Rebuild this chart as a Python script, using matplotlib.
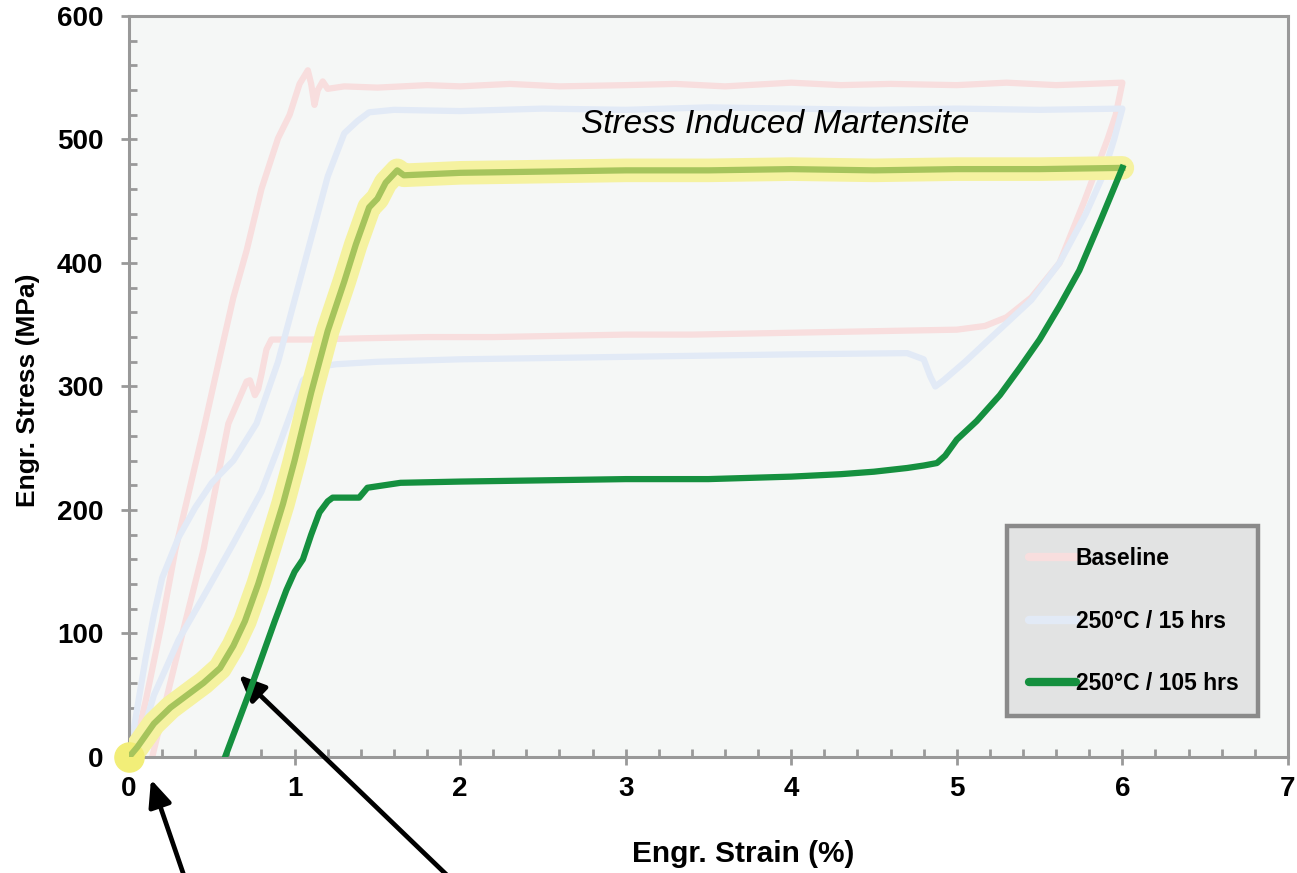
import matplotlib.pyplot as plt
from matplotlib.ticker import MultipleLocator

# Baseline: loading -> upper plateau -> unloading -> lower plateau -> back to zero
base_x = [0.02, 0.10, 0.20, 0.28, 0.35, 0.45, 0.55, 0.63, 0.71, 0.80, 0.90, 0.97, 1.03, 1.08,
          1.10, 1.12, 1.14, 1.17, 1.20, 1.30, 1.50, 1.80, 2.00, 2.30, 2.60, 3.00, 3.30, 3.60,
          4.00, 4.30, 4.60, 5.00, 5.30, 5.60, 5.80, 6.00,
          5.96, 5.91, 5.84, 5.77, 5.62, 5.45, 5.30, 5.17, 5.00, 4.60, 4.20, 3.80, 3.40, 3.00,
          2.60, 2.20, 1.80, 1.40, 1.10, 0.95, 0.86, 0.83, 0.80, 0.78, 0.76, 0.73, 0.71, 0.60,
          0.45, 0.30, 0.14]
base_y = [0, 45, 110, 168, 208, 265, 325, 372, 410, 460, 501, 520, 545, 556,
          545, 528, 540, 547, 541, 543, 542, 544, 543, 545, 543, 544, 545, 543,
          546, 544, 545, 544, 546, 544, 545, 546,
          520, 500, 475, 450, 400, 372, 356, 349, 346, 345, 344, 343, 342, 342,
          341, 340, 340, 339, 338, 338, 338, 330, 310, 298, 293, 305, 304, 270,
          168, 88, 0]

# 250 C / 15 hrs
h15_x = [0.00, 0.05, 0.10, 0.15, 0.20, 0.30, 0.40, 0.50, 0.63, 0.77, 0.90, 1.00, 1.10, 1.20,
         1.30, 1.38, 1.45, 1.60, 2.00, 2.50, 3.00, 3.50, 4.00, 4.50, 5.00, 5.50, 6.00,
         5.95, 5.88, 5.78, 5.62, 5.45, 5.25, 5.05, 4.92, 4.87, 4.84, 4.80, 4.70, 4.00, 3.00,
         2.00, 1.50, 1.25, 1.15, 1.05, 0.90, 0.80, 0.63, 0.45, 0.30, 0.15, 0.04]
h15_y = [0, 40, 80, 115, 145, 178, 202, 222, 240, 270, 320, 370, 420, 470,
         505, 515, 522, 524, 523, 525, 524, 526, 525, 524, 525, 524, 525,
         500, 470, 440, 400, 370, 345, 320, 305, 300, 308, 322, 327, 326, 324,
         322, 320, 318, 316, 305, 250, 215, 173, 130, 95, 50, 0]

# 250 C / 105 hrs, highlighted loading branch and plain unloading branch
h105_load_x = [0.00, 0.05, 0.15, 0.25, 0.35, 0.45, 0.55, 0.63, 0.70, 0.78, 0.85, 0.93, 1.00,
               1.10, 1.20, 1.30, 1.37, 1.45, 1.50, 1.55, 1.62, 1.66, 2.00, 2.50, 3.00, 3.50,
               4.00, 4.50, 5.00, 5.50, 6.00]
h105_load_y = [0, 8, 27, 40, 50, 60, 72, 90, 110, 140, 170, 205, 240,
               295, 345, 385, 415, 445, 452, 465, 475, 471, 473, 474, 475, 475,
               476, 475, 476, 476, 477]
h105_unload_x = [6.00, 5.87, 5.74, 5.62, 5.50, 5.38, 5.26, 5.12, 5.00, 4.93, 4.88, 4.80, 4.70,
                 4.50, 4.30, 4.00, 3.50, 3.00, 2.50, 2.00, 1.64, 1.44, 1.39, 1.30, 1.23, 1.20,
                 1.15, 1.10, 1.05, 1.00, 0.95, 0.88, 0.80, 0.72, 0.65, 0.58]
h105_unload_y = [477, 435, 394, 365, 338, 315, 293, 272, 257, 244, 238, 236, 234,
                 231, 229, 227, 225, 225, 224, 223, 222, 218, 210, 210, 210, 207,
                 198, 180, 160, 150, 135, 110, 80, 50, 25, 0]

labels = ['Baseline', '250°C / 15 hrs', '250°C / 105 hrs']
colors = ['#f8dede', '#e2eaf6', '#15903f']

plt.rcParams['font.family'] = ['Liberation Sans', 'DejaVu Sans']

fig = plt.figure(figsize=(12.97, 8.73), dpi=100)
ax = fig.add_axes([0.0995, 0.1329, 0.8935, 0.8488])
ax.set_facecolor('#f5f7f6')

ax.plot(base_x, base_y, color=colors[0], lw=4.5, solid_joinstyle='round', zorder=2, label=labels[0])
ax.plot(h15_x, h15_y, color=colors[1], lw=4.5, solid_joinstyle='round', zorder=2, label=labels[1])

# yellow highlight of the loading branch
ax.plot(h105_load_x, h105_load_y, color='#f5f2a0', lw=17, solid_capstyle='round',
        solid_joinstyle='round', zorder=3)
ax.plot([h105_load_x[0]], [h105_load_y[0]], 'o', color='#f2ee78', ms=21, zorder=3,
        clip_on=False)
ax.plot(h105_load_x, h105_load_y, color='#a6c45c', lw=4.5, solid_joinstyle='round', zorder=4)
ax.plot(h105_unload_x, h105_unload_y, color=colors[2], lw=4.5, solid_joinstyle='round',
        zorder=4, label=labels[2])

ax.text(3.9, 512, 'Stress Induced Martensite', fontsize=24, style='italic',
        ha='center', va='center')

# arrows coming from below the axes
arrow = dict(arrowstyle='-|>,head_length=1.6,head_width=0.7', lw=3.4, color='black')
ax.annotate('', xy=(0.127, -16), xytext=(0.38, -115), arrowprops=arrow,
            annotation_clip=False)
ax.annotate('', xy=(0.652, 68), xytext=(2.07, -115), arrowprops=arrow,
            annotation_clip=False)

ax.set_xlim(0, 7)
ax.set_ylim(0, 600)
ax.xaxis.set_major_locator(MultipleLocator(1))
ax.xaxis.set_minor_locator(MultipleLocator(0.2))
ax.yaxis.set_major_locator(MultipleLocator(100))
ax.yaxis.set_minor_locator(MultipleLocator(20))
ax.tick_params(which='major', direction='inout', length=11, width=2, color='#999999',
               labelsize=20)
ax.tick_params(axis='x', which='major', pad=8)
ax.tick_params(axis='y', which='major', pad=13)
ax.tick_params(which='minor', direction='in', length=6, width=2, color='#999999')
for lab in ax.get_xticklabels() + ax.get_yticklabels():
    lab.set_fontweight('bold')
for sp in ax.spines.values():
    sp.set_color('#999999')
    sp.set_linewidth(2.2)

ax.set_xlabel('Engr. Strain (%)', fontsize=21.5, fontweight='bold')
ax.xaxis.set_label_coords(0.53, -0.112)
ax.set_ylabel('Engr. Stress (MPa)', fontsize=19, fontweight='bold')
ax.yaxis.set_label_coords(-0.077, 0.495)

leg = ax.legend(loc='lower left', bbox_to_anchor=(0.758, 0.055, 0.216, 0.255), mode='expand',
                borderaxespad=0, fancybox=False, handlelength=2.05, handletextpad=0.0,
                labelspacing=1.72, borderpad=0.92, prop={'weight': 'bold', 'size': 16.5})
frame = leg.get_frame()
frame.set_facecolor('#e2e3e3')
frame.set_edgecolor('#8a8a8a')
frame.set_linewidth(3.2)
frame.set_alpha(1)
for line in leg.get_lines():
    line.set_linewidth(6)
    line.set_solid_capstyle('round')

fig.savefig('out.png', dpi=100)
